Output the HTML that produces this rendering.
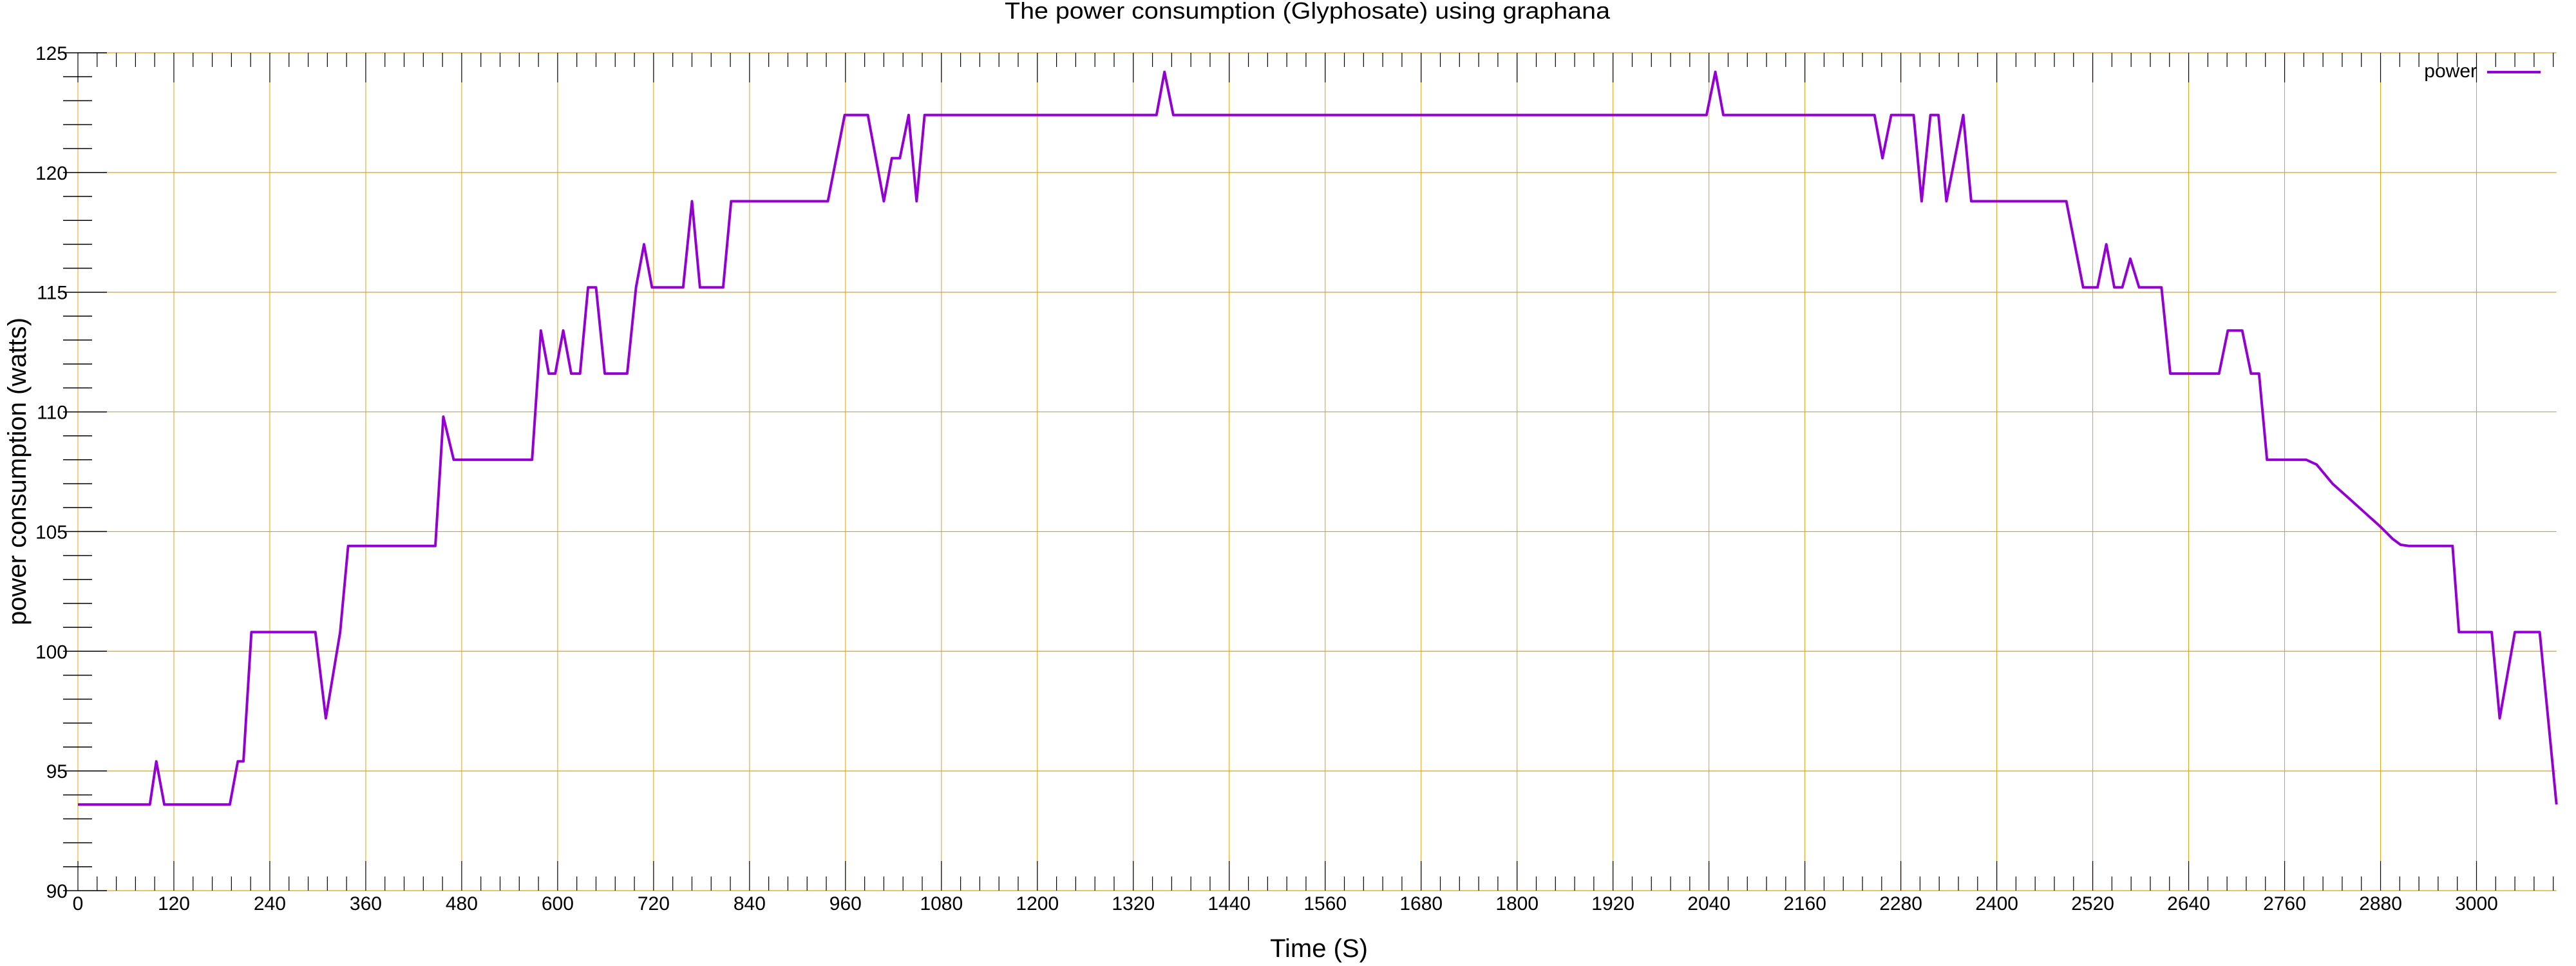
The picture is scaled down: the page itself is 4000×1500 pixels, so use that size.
<!DOCTYPE html>
<html><head><meta charset="utf-8"><style>
html,body{margin:0;padding:0;background:#fff;}
svg{display:block;font-family:"Liberation Sans",sans-serif;}
</style></head><body>
<svg id="chart" width="4000" height="1500" viewBox="0 0 4000 1500" xmlns="http://www.w3.org/2000/svg">
<text x="2030" y="29" font-size="36" text-anchor="middle" textLength="940" lengthAdjust="spacingAndGlyphs">The power consumption (Glyphosate) using graphana</text>
<text x="2048" y="1486" font-size="40" text-anchor="middle">Time (S)</text>
<text transform="translate(40,732) rotate(-90)" font-size="40" text-anchor="middle">power consumption (watts)</text>
<g id="grid"></g>
<g id="ticks"></g>
<g id="series"></g>
<g>
<text x="3846" y="120" font-size="30" text-anchor="end">power</text>
<line x1="3862" y1="112" x2="3945" y2="112" stroke="#9400d3" stroke-width="4"/>
</g>
</svg>
<script>
const times = [0,90,98,108,190,200,207,217,297,310,328,338,447,457,470,568,579,589,597,607,617,628,638,648,659,687,698,708,718,757,768,778,807,817,938,959,988,1008,1018,1028,1039,1049,1059,1349,1359,1370,2037,2048,2058,2247,2257,2268,2296,2306,2317,2327,2337,2358,2368,2487,2508,2526,2537,2547,2557,2567,2578,2606,2617,2678,2689,2707,2718,2728,2738,2787,2800,2810,2820,2840,2860,2880,2895,2905,2915,2970,2978,3019,3029,3048,3079,3100];
const power = [93.6,93.6,95.4,93.6,93.6,95.4,95.4,100.8,100.8,97.2,100.8,104.4,104.4,109.8,108,108,113.4,111.6,111.6,113.4,111.6,111.6,115.2,115.2,111.6,111.6,115.2,117,115.2,115.2,118.8,115.2,115.2,118.8,118.8,122.4,122.4,118.8,120.6,120.6,122.4,118.8,122.4,122.4,124.2,122.4,122.4,124.2,122.4,122.4,120.6,122.4,122.4,118.8,122.4,122.4,118.8,122.4,118.8,118.8,115.2,115.2,117,115.2,115.2,116.4,115.2,115.2,111.6,111.6,113.4,113.4,111.6,111.6,108,108,107.8,107.4,107.0,106.4,105.8,105.2,104.7,104.45,104.4,104.4,100.8,100.8,97.2,100.8,100.8,93.6];
const xTicks = [0,120,240,360,480,600,720,840,960,1080,1200,1320,1440,1560,1680,1800,1920,2040,2160,2280,2400,2520,2640,2760,2880,3000];
const yTicks = [90,95,100,105,110,115,120,125];

const X0=121, XPX=1.2415, XMAX=3100, YTOP=82, YBOT=1383, YMIN=90, YMAX=125;
const NS='http://www.w3.org/2000/svg';
function sx(t){return X0+t*XPX;}
function sy(v){return YBOT-(v-YMIN)/(YMAX-YMIN)*(YBOT-YTOP);}
function mk(tag,attrs,parent){const e=document.createElementNS(NS,tag);for(const k in attrs)e.setAttribute(k,attrs[k]);parent.appendChild(e);return e;}
const grid=document.getElementById('grid'), ticks=document.getElementById('ticks'), series=document.getElementById('series');
const XR=sx(XMAX);
yTicks.forEach(v=>{
  const l=mk('line',{x1:X0,x2:XR,y1:sy(v),y2:sy(v),stroke:'#e5a00d','stroke-width':1.2},grid);
  
  
  const t=mk('line',{x1:98,x2:166,y1:sy(v),y2:sy(v),stroke:'#000','stroke-width':1.5},ticks);
  
  
  const lb=mk('text',{x:105,y:sy(v)+11,'font-size':30,'text-anchor':'end'},ticks);
  lb.textContent=String(v);
  
  
});
for(let v=YMIN;v<=YMAX;v++){ if(v%5===0) continue;
  const t=mk('line',{x1:98,x2:143,y1:sy(v),y2:sy(v),stroke:'#000','stroke-width':1.5},ticks);
  
  
}
xTicks.forEach(v=>{
  const l=mk('line',{x1:sx(v),x2:sx(v),y1:YTOP,y2:YBOT,stroke:'#e5a00d','stroke-width':1},grid);
  
  
  const t1=mk('line',{x1:sx(v),x2:sx(v),y1:YBOT,y2:YBOT-46,stroke:'#000','stroke-width':1.2},ticks);
  
  
  const t2=mk('line',{x1:sx(v),x2:sx(v),y1:YTOP,y2:YTOP+46,stroke:'#000','stroke-width':1.2},ticks);
  
  
  const lb=mk('text',{x:sx(v),y:YBOT+30,'font-size':30,'text-anchor':'middle'},ticks);
  lb.textContent=String(v);
  
  
});
for(let v=0;v<=XMAX;v+=24){ if(v%120===0) continue;
  const t1=mk('line',{x1:sx(v),x2:sx(v),y1:YBOT,y2:YBOT-22,stroke:'#000','stroke-width':1.2},ticks);
  
  
  const t2=mk('line',{x1:sx(v),x2:sx(v),y1:YTOP,y2:YTOP+22,stroke:'#000','stroke-width':1.2},ticks);
  
  
}
const pts=times.map((t,i)=>sx(t).toFixed(1)+','+sy(power[i]).toFixed(1)).join(' ');
const pl=mk('polyline',{points:pts,fill:'none',stroke:'#9400d3','stroke-width':4,'stroke-linejoin':'round'},series);


</script>
</body></html>
